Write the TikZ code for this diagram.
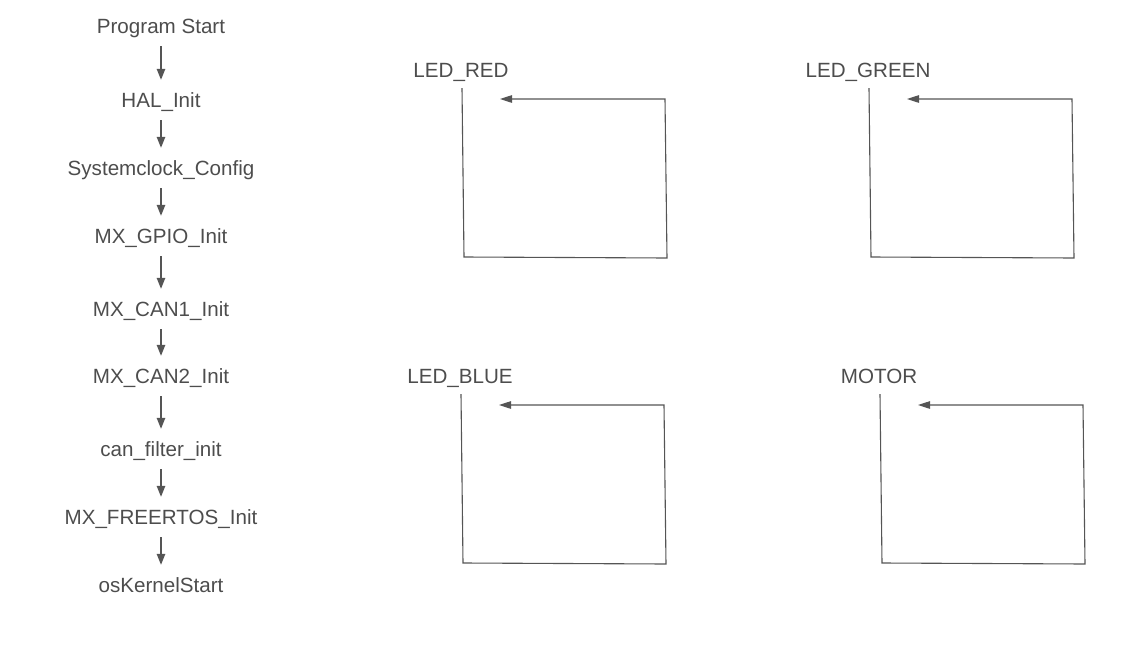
\documentclass[tikz,border=0pt]{standalone}
\usepackage{fontspec}
\setmainfont{Liberation Sans}
\usetikzlibrary{arrows.meta, positioning}
\definecolor{linegray}{HTML}{555555}
\definecolor{textgray}{HTML}{4D4D4D}

\begin{document}
\begin{tikzpicture}[x=1pt, y=-1pt,
  stepnode/.style={minimum height=40pt, inner sep=0pt, text height=14.8pt, text depth=0pt,
                   font=\fontsize{20.6}{24}\selectfont, text=textgray},
  tasklabel/.style={minimum height=36pt, inner sep=0pt, text height=14.8pt, text depth=0pt,
                    font=\fontsize{20.6}{24}\selectfont, text=textgray},
  arrow/.style={-{Triangle[length=11pt, width=8.5pt]}, line width=1.3pt, color=linegray},
  loopline/.style={-{Triangle[length=12pt, width=7.5pt]}, line width=1.1pt, color=linegray},
]
\useasboundingbox (0,0) rectangle (1136,648);

% Startup sequence
\node[stepnode] (start)  at (161,26)  {Program Start};
\node[stepnode] (hal)    at (161,100) {HAL\_Init};
\node[stepnode] (clock)  at (161,168) {Systemclock\_Config};
\node[stepnode] (gpio)   at (161,236) {MX\_GPIO\_Init};
\node[stepnode] (can1)   at (161,309) {MX\_CAN1\_Init};
\node[stepnode] (can2)   at (161,376) {MX\_CAN2\_Init};
\node[stepnode] (filter) at (161,449) {can\_filter\_init};
\node[stepnode] (rtos)   at (161,517) {MX\_FREERTOS\_Init};
\node[stepnode] (kernel) at (161,585) {osKernelStart};

\foreach \a/\b in {start/hal, hal/clock, clock/gpio, gpio/can1,
                   can1/can2, can2/filter, filter/rtos, rtos/kernel}
  \draw[arrow] (\a.south) -- (\b.north);

% Task loops
\foreach \nm/\lbl/\x/\y in {red/LED\_RED/461/70, green/LED\_GREEN/868/70,
                            blue/LED\_BLUE/460/376, motor/MOTOR/879/376} {
  \node[tasklabel] (\nm) at (\x,\y) {\lbl};
  \coordinate (\nm-bl)  at (\x+3,\y+187);
  \coordinate (\nm-br)  at (\x+206,\y+188);
  \coordinate (\nm-tr)  at (\x+204,\y+29);
  \coordinate (\nm-tip) at (\x+39,\y+29);
  \draw[loopline] ([xshift=1pt]\nm.south) -- (\nm-bl) -- (\nm-br) -- (\nm-tr) -- (\nm-tip);
}
\end{tikzpicture}
\end{document}
